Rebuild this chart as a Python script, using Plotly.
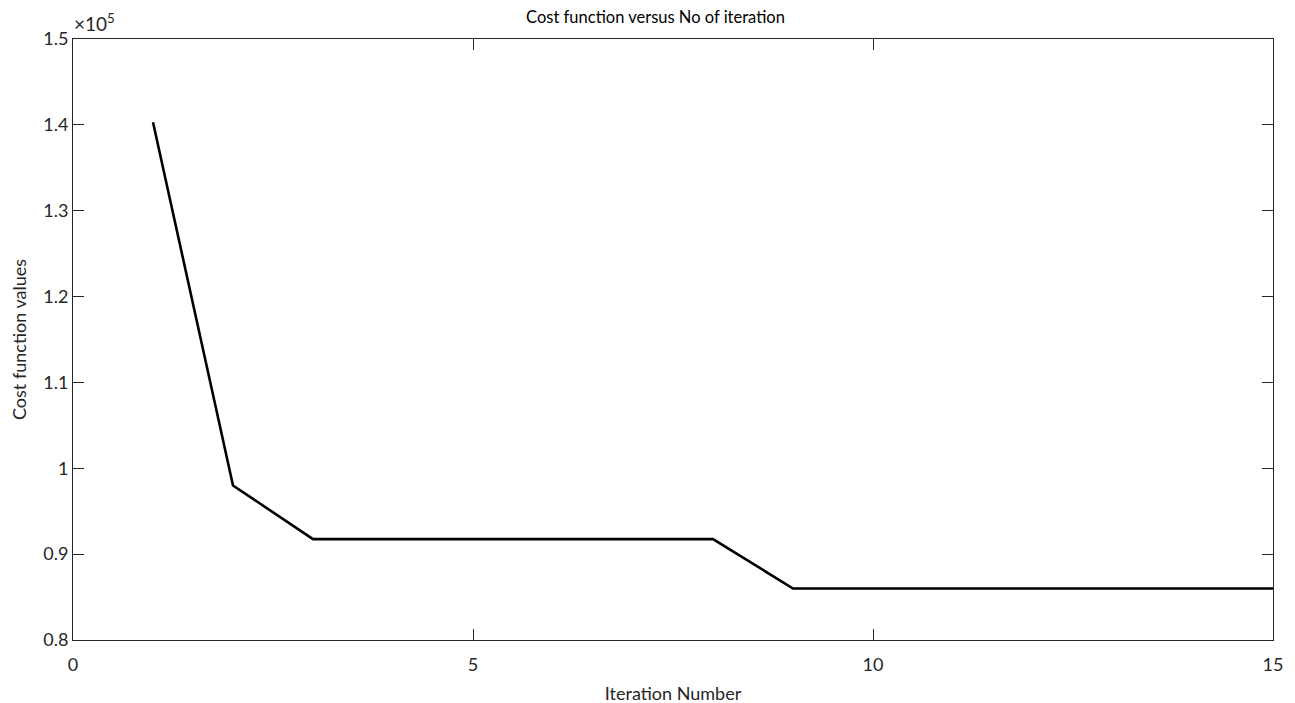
import plotly.graph_objects as go

iterations = list(range(1, 16))
cost_values = [140300, 98000, 91750, 91750, 91750, 91750, 91750, 91750,
               86000, 86000, 86000, 86000, 86000, 86000, 86000]

y_tickvals = [80000, 90000, 100000, 110000, 120000, 130000, 140000, 150000]
y_ticktext = ["0.8", "0.9", "1", "1.1", "1.2", "1.3", "1.4", "1.5"]
x_tickvals = [0, 5, 10, 15]

font_family = "Lato, Open Sans, sans-serif"
axis_color = "#262626"

fig = go.Figure()
fig.add_trace(go.Scatter(
    x=iterations, y=cost_values, mode="lines",
    line=dict(color="black", width=2.6),
    showlegend=False,
))

fig.update_layout(
    width=1295, height=703,
    margin=dict(l=65, r=30, t=31, b=71),
    paper_bgcolor="white", plot_bgcolor="white",
    font=dict(family=font_family, size=18, color=axis_color),
    title=dict(text="Cost function versus No of iteration", x=0.5, xanchor="center",
               y=0.995, yanchor="top", font=dict(size=16.5, color="black")),
)
fig.update_xaxes(
    range=[0, 15], tickvals=x_tickvals, ticks="inside", ticklen=11,
    showline=True, linecolor=axis_color, linewidth=1, mirror="ticks",
    tickcolor=axis_color, showgrid=False, zeroline=False,
    ticklabelstandoff=8, automargin=False,
    title=dict(text="Iteration Number", standoff=13, font=dict(size=18)),
)
fig.update_yaxes(
    range=[80000, 150000], tickvals=y_tickvals, ticktext=y_ticktext,
    ticks="inside", ticklen=11,
    showline=True, linecolor=axis_color, linewidth=1, mirror="ticks",
    tickcolor=axis_color, showgrid=False, zeroline=False, automargin=False,
    title=dict(text="Cost function values", standoff=13, font=dict(size=18)),
)
fig.add_annotation(
    text="×10<sup>5</sup>", xref="paper", yref="paper", x=0, y=1,
    xanchor="left", yanchor="bottom", showarrow=False,
    font=dict(size=19, color=axis_color), xshift=-1, yshift=2,
)

fig.write_html("out.html")
